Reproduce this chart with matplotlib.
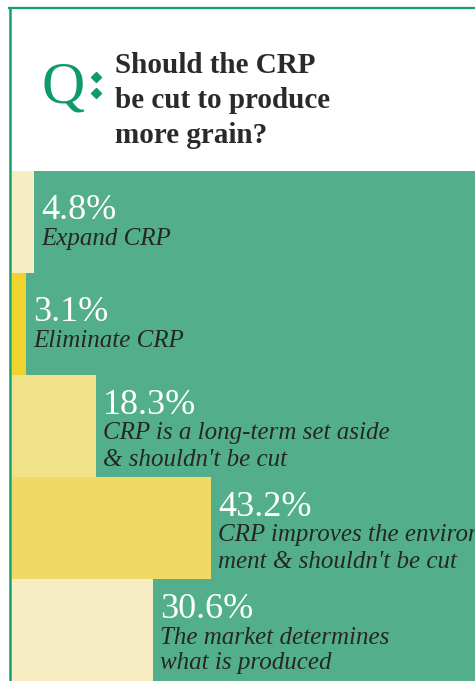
import numpy as np
import matplotlib
matplotlib.use("Agg")
import matplotlib.pyplot as plt
from matplotlib.lines import Line2D

# ---- data ----
values = [4.8, 3.1, 18.3, 43.2, 30.6]
answers = [
    ["Expand CRP"],
    ["Eliminate CRP"],
    ["CRP is a long-term set aside", "& shouldn't be cut"],
    ["CRP improves the environ-", "ment & shouldn't be cut"],
    ["The market determines", "what is produced"],
]
title_lines = ["Should the CRP", "be cut to produce", "more grain?"]
bar_colors = ["#F7EDC2", "#EFD32F", "#F2E18B", "#F0D965", "#F7EDC2"]

W, H = 475, 681
GREEN_BG = "#53AF8B"
FRAME = "#14A06C"
SERIF = ["Liberation Serif", "DejaVu Serif"]

fig = plt.figure(figsize=(W / 100, H / 100), dpi=100)
fig.patch.set_facecolor("white")

def fx(px):
    return px / W

def fy(py):
    return 1 - py / H

# frame lines
fig.add_artist(Line2D([fx(9), 1], [fy(8), fy(8)], color=FRAME, lw=1.6))
fig.add_artist(Line2D([fx(10), fx(10)], [fy(8), 0], color=FRAME, lw=1.8))

# Q: heading
fig.text(fx(42), fy(102), "Q", fontsize=43, color="#10996A", family=SERIF,
         va="baseline", ha="left")
for yy in (77, 93):
    fig.add_artist(Line2D([fx(96)], [fy(yy)], marker="D", markersize=4.6,
                          color="#10996A", linestyle="none"))

for i, line in enumerate(title_lines):
    fig.text(fx(115), fy(73 + 35 * i), line, fontsize=21, fontweight="bold",
             color="#2A2A2A", family=SERIF, va="baseline", ha="left")

# chart panel
ax = fig.add_axes([fx(12), 0, 1 - fx(12), 510 / H])
ax.set_facecolor(GREEN_BG)
y = np.arange(len(values))
ax.barh(y, values, height=1.0, color=bar_colors, align="center", linewidth=0)
ax.set_ylim(len(values) - 0.5, -0.5)
ax.set_xlim(0, 100.6)
ax.set_xticks([])
ax.set_yticks([])
for s in ax.spines.values():
    s.set_visible(False)

for i, (v, lines) in enumerate(zip(values, answers)):
    n = len(lines)
    base = 3 if n == 1 else 12.5
    ax.annotate(f"{v}%", xy=(v, i), xytext=(7, base), textcoords="offset pixels",
                fontsize=26, color="white", family=SERIF, va="baseline", ha="left")
    for k, ln in enumerate(lines):
        ax.annotate(ln, xy=(v, i), xytext=(7, base - 26 - 26 * k),
                    textcoords="offset pixels", fontsize=18, style="italic",
                    color="#262626", family=SERIF, va="baseline", ha="left")

fig.savefig("out.png", dpi=100)
